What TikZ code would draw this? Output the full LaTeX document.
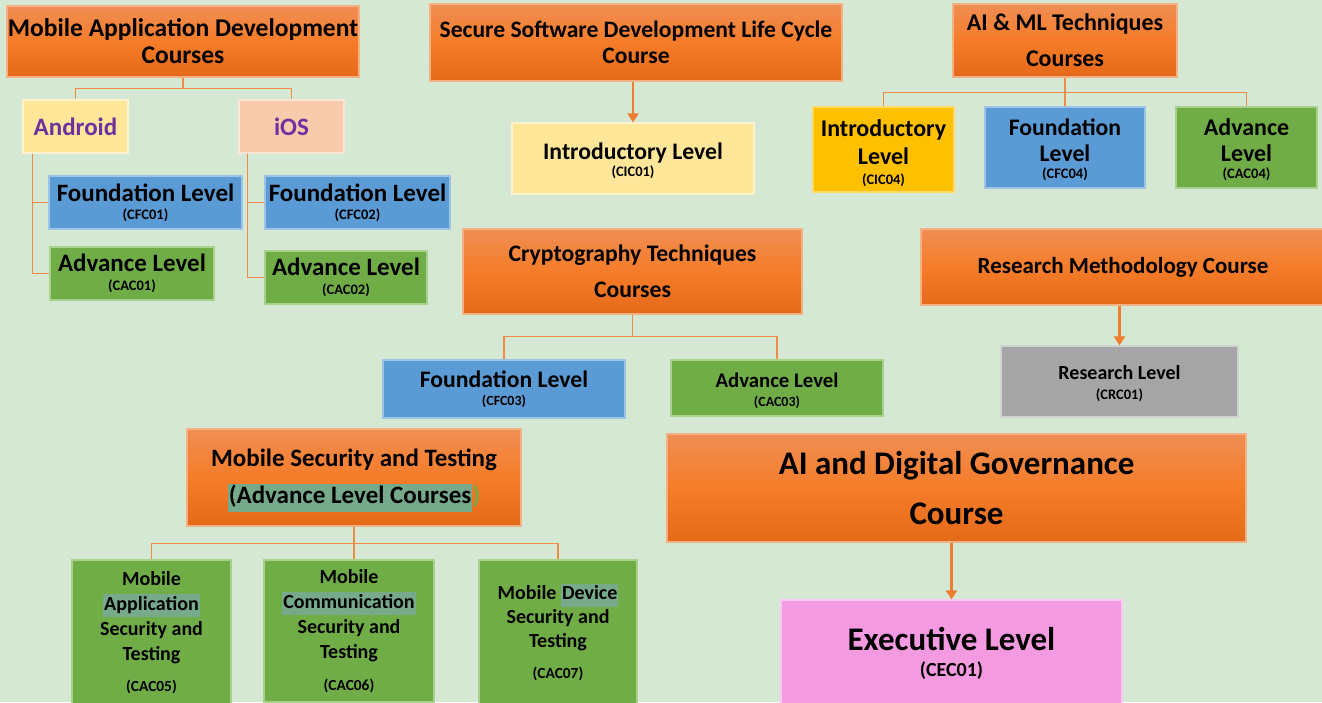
\documentclass[tikz,border=0pt]{standalone}
\usepackage{fontspec}
\setmainfont{Carlito}
\usetikzlibrary{arrows.meta}
\definecolor{bg}{RGB}{213,232,212}
\definecolor{orT}{RGB}{240,142,84}
\definecolor{orM}{RGB}{245,124,40}
\definecolor{orB}{RGB}{228,106,26}
\definecolor{orBd}{RGB}{244,177,131}
\definecolor{blu}{RGB}{91,155,213}
\definecolor{bluBd}{RGB}{157,195,230}
\definecolor{grn}{RGB}{112,173,71}
\definecolor{grnBd}{RGB}{169,209,142}
\definecolor{ylw}{RGB}{255,230,153}
\definecolor{ylwBd}{RGB}{255,242,204}
\definecolor{pch}{RGB}{248,203,173}
\definecolor{pchBd}{RGB}{251,229,214}
\definecolor{gld}{RGB}{255,192,0}
\definecolor{gldBd}{RGB}{255,217,102}
\definecolor{gry}{RGB}{165,165,165}
\definecolor{gryBd}{RGB}{210,210,210}
\definecolor{pnk}{RGB}{244,154,224}
\definecolor{pnkBd}{RGB}{250,200,240}
\definecolor{hl}{RGB}{118,170,138}
\definecolor{purp}{RGB}{112,48,160}
\definecolor{conn}{RGB}{240,140,70}
\definecolor{arr}{RGB}{237,125,49}
\newcommand\fnt[2]{\bfseries\fontsize{#1}{#2}\selectfont}
\newcommand\cd[2]{{\fontsize{#1}{#1}\selectfont #2}}
\newcommand\lift[1]{\rule{0pt}{#1pt}}
\newcommand\hlbox[1]{{\setlength\fboxsep{1pt}\colorbox{hl}{\rule[-0.3em]{0pt}{1.05em}#1}}}
\tikzset{
  box/.style={draw, line width=1.2pt, inner sep=0pt, align=center, text=black},
  sz/.style 2 args={minimum width=#1pt, minimum height=#2pt},
  hdr/.style={box, draw=orBd, top color=orT, bottom color=orB, middle color=orM},
  bluebox/.style={box, fill=blu, draw=bluBd},
  greenbox/.style={box, fill=grn, draw=grnBd},
  ylwbox/.style={box, fill=ylw, draw=ylwBd},
  link/.style={draw=conn, line width=1.4pt},
  arrowlink/.style={draw=arr, line width=2.6pt, -{Triangle[width=11pt,length=9pt]}}
}
\begin{document}
\begin{tikzpicture}[x=1pt,y=-1pt]
\path[use as bounding box] (0,0) rectangle (1322,702);
\clip (0,0) rectangle (1322,702);
\fill[bg] (0,0) rectangle (1322,702);

% Mobile Application Development
\node[hdr, sz={352}{71}, font=\fnt{25.5}{27}] (mad) at (183,41.5) {Mobile Application Development\\Courses};
\node[ylwbox, sz={105}{53}, font=\fnt{25}{25}, text=purp] (and) at (75.5,126.5) {Android};
\node[box, fill=pch, draw=pchBd, sz={105}{53}, font=\fnt{25}{25}, text=purp] (ios) at (291.5,126.5) {iOS};
\node[bluebox, sz={193}{53}, font=\fnt{25}{21}] (cfc01) at (145.5,202.5) {Foundation Level\\[-3pt]\cd{14.5}{(CFC01)}};
\node[greenbox, sz={164}{53}, font=\fnt{25}{22}] (cac01) at (132,273.5) {Advance Level\\[-3pt]\cd{14.5}{(CAC01)}};
\node[bluebox, sz={185}{53}, font=\fnt{25}{21}] (cfc02) at (357.5,202.5) {Foundation Level\\[-3pt]\cd{14.5}{(CFC02)}};
\node[greenbox, sz={162}{53}, font=\fnt{25}{22}] (cac02) at (346,277.5) {Advance Level\\[-3pt]\cd{14.5}{(CAC02)}};

% SSDLC
\node[hdr, sz={412}{77}, font=\fnt{23.6}{26}] (ssdlc) at (636,42.5) {Secure Software Development Life Cycle\\Course};
\node[ylwbox, sz={242}{71}, font=\fnt{23.7}{20}] (cic01) at (633,158.5) {\lift{22}Introductory Level\\[-3pt]\cd{14.5}{(CIC01)}};

% AI & ML
\node[hdr, sz={224}{73}, font=\fnt{24}{36}] (aiml) at (1065,40.5) {AI \& ML Techniques\\Courses};
\node[box, fill=gld, draw=gldBd, sz={141}{85}, font=\fnt{24}{28}] (cic04) at (883.5,149.5) {\lift{24}Introductory\\Level\\[-8pt]\cd{14.5}{(CIC04)}};
\node[bluebox, sz={160}{81}, font=\fnt{23.7}{26}] (cfc04) at (1065,147.5) {\lift{22}Foundation\\Level\\[-9pt]\cd{14.5}{(CFC04)}};
\node[greenbox, sz={141}{81}, font=\fnt{24}{26}] (cac04) at (1246.5,147.5) {\lift{22}Advance\\Level\\[-9pt]\cd{14.5}{(CAC04)}};

% Cryptography
\node[hdr, sz={339}{85}, font=\fnt{23.7}{36}] (cry) at (632.5,271.5) {Cryptography Techniques\\Courses};
\node[bluebox, sz={242}{58}, font=\fnt{23.7}{21}] (cfc03) at (504,389) {Foundation Level\\[-3pt]\cd{14}{(CFC03)}};
\node[greenbox, sz={212}{56}, font=\fnt{20.8}{21}] (cac03) at (777,388) {\lift{21}Advance Level\\[-2pt]\cd{14}{(CAC03)}};

% Research
\node[hdr, sz={404}{76}, font=\fnt{23}{24}] (rm) at (1123,267) {Research Methodology Course};
\node[box, fill=gry, draw=gryBd, sz={237}{71}, font=\fnt{20}{22}] (crc01) at (1119.5,381.5) {\lift{19}Research Level\\[-2pt]\cd{14.5}{(CRC01)}};

% AI and Digital Governance
\node[hdr, sz={579}{108}, font=\fnt{33}{50}] (aidg) at (956.5,488) {AI and Digital Governance\\Course};
\node[box, fill=pnk, draw=pnkBd, sz={341}{106}, font=\fnt{33}{30}] (cec01) at (951.5,653) {Executive Level\\[-4pt]\cd{20}{(CEC01)}};

% Mobile Security and Testing
\node[hdr, sz={334}{97}, font=\fnt{25}{37}] (mst) at (354,477.5) {\lift{24}Mobile Security and Testing\\\hlbox{(Advance Level Courses}\textcolor{grn}{)}};
\node[greenbox, sz={159}{145}, font=\fnt{20}{25}] (cac05) at (151.5,632.5) {Mobile\\\hlbox{Application}\\Security and\\Testing\\[6pt]\cd{15.4}{(CAC05)}};
\node[greenbox, sz={170}{142}, font=\fnt{20}{25}] (cac06) at (349,631) {Mobile\\\hlbox{Communication}\\Security and\\Testing\\[7pt]\cd{15.4}{(CAC06)}};
\node[greenbox, sz={158}{145}, font=\fnt{20}{24}] (cac07) at (558,632.5) {Mobile \hlbox{Device}\\Security and\\Testing\\[7pt]\cd{15.4}{(CAC07)}};

% connectors
\draw[link] (mad.south) -- ++(0,11) -| (and.north);
\draw[link] (mad.south) -- ++(0,11) -| (ios.north);
\draw[link] ([xshift=10pt]and.south west) |- (cfc01.west);
\draw[link] ([xshift=10pt]and.south west) |- (cac01.west);
\draw[link] ([xshift=9pt]ios.south west) |- (cfc02.west);
\draw[link] ([xshift=9pt]ios.south west) |- (cac02.west);

\draw[arrowlink] (ssdlc.south -| cic01.north) -- (cic01.north);

\draw[link] (aiml.south) -- ++(0,15) -| (cic04.north);
\draw[link] (aiml.south) -- (cfc04.north);
\draw[link] (aiml.south) -- ++(0,15) -| (cac04.north);

\draw[link] (cry.south) -- ++(0,22) -| (cfc03.north);
\draw[link] (cry.south) -- ++(0,22) -| (cac03.north);

\draw[arrowlink] (rm.south -| crc01.north) -- (crc01.north);
\draw[arrowlink] (aidg.south -| cec01.north) -- (cec01.north);

\draw[link] (mst.south) -- ++(0,17) -| (cac05.north);
\draw[link] (mst.south) -- (mst.south |- cac06.north);
\draw[link] (mst.south) -- ++(0,17) -| (cac07.north);
\end{tikzpicture}
\end{document}
